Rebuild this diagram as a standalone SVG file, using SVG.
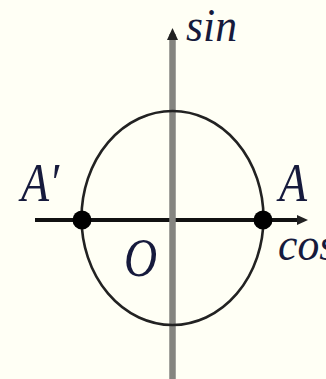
<svg xmlns="http://www.w3.org/2000/svg" width="326" height="379" viewBox="0 0 326 379">
<style>
.lbl{font-family:"Liberation Serif","Times New Roman",serif;font-style:italic;font-size:54px;fill:#161a3c}
.sm{font-size:46px}
.axis{stroke:#111;stroke-width:4;fill:none}
.vaxis{stroke:#858580;stroke-width:6.5;fill:none}
.curve{stroke:#222;stroke-width:2.6;fill:none}
.dot{fill:#000}
</style>
<rect width="326" height="379" fill="#fffff5"/>
<g id="connectors">
<line class="axis" x1="35" y1="220" x2="300" y2="220"/>
<path d="M297,215 L308,220 L297,225 z" fill="#222"/>
<line class="vaxis" x1="172.5" y1="379" x2="172.5" y2="34"/>
<path d="M167,40 L172.5,28 L178,40 z" fill="#222"/>
</g>
<g id="circle">
<ellipse class="curve" cx="172.5" cy="218" rx="91" ry="107"/>
</g>
<g id="pointA1">
<circle class="dot" cx="82" cy="220" r="9.5"/>
<text class="lbl" transform="translate(21,201) scale(0.85,1)">A′</text>
</g>
<g id="pointA">
<circle class="dot" cx="263" cy="220" r="9.5"/>
<text class="lbl" transform="translate(279,201) scale(0.85,1)">A</text>
</g>
<g id="origin">
<text class="lbl" transform="translate(124,276) scale(0.85,1)">O</text>
</g>
<g id="labels">
<text class="lbl sm" transform="translate(186,41) scale(0.95,1)">sin</text>
<text class="lbl sm" transform="translate(278,260) scale(0.95,1)">cos</text>
</g>
</svg>
